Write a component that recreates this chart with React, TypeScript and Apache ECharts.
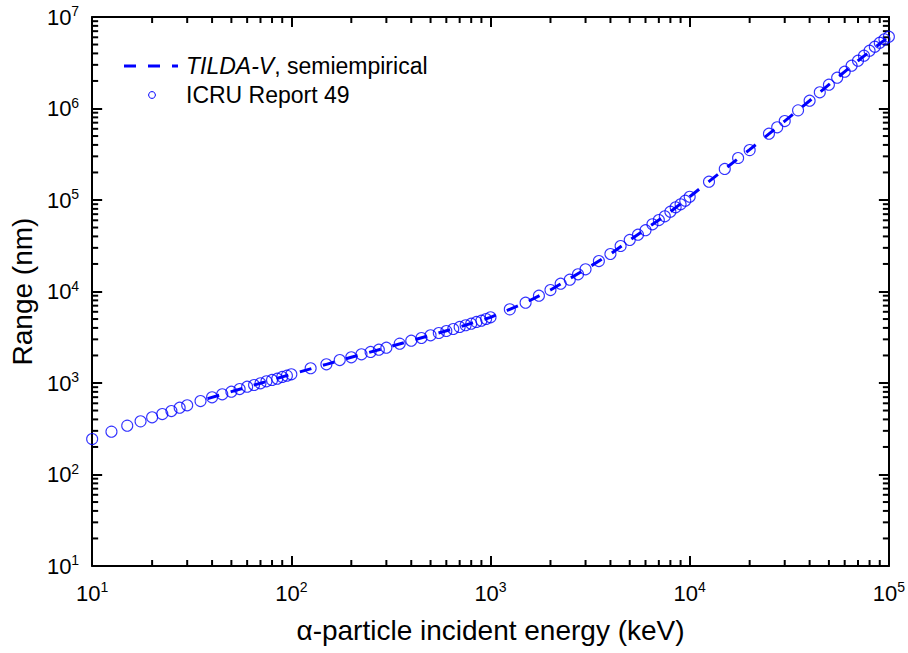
import React, { useEffect, useRef } from 'react';
import * as echarts from 'echarts';

// ICRU Report 49 points (alpha-particle energy in keV, range in nm)
const energyKeV = [
  10, 12.5, 15, 17.5, 20, 22.5, 25, 27.5, 30, 35, 40, 45, 50, 55, 60, 65, 70, 75, 80, 85, 90, 95, 100,
  125, 150, 175, 200, 225, 250, 275, 300, 350, 400, 450, 500, 550, 600, 650, 700, 750, 800, 850, 900, 950, 1000,
  1250, 1500, 1750, 2000, 2250, 2500, 2750, 3000, 3500, 4000, 4500, 5000, 5500, 6000, 6500, 7000, 7500, 8000, 8500, 9000, 9500, 10000,
  12500, 15000, 17500, 20000, 25000, 27500, 30000, 35000, 40000, 45000, 50000, 55000, 60000, 65000, 70000, 75000, 80000, 85000, 90000, 95000, 100000,
];
const icruRangeNm = [
  244, 294, 342, 381, 422, 458, 494, 537, 570, 635, 698, 753, 803, 859, 911, 951, 993, 1044, 1079, 1115, 1164, 1203, 1245,
  1449, 1601, 1783, 1909, 2060, 2183, 2312, 2432, 2692, 2899, 3104, 3321, 3519, 3700, 3893, 4095, 4276, 4450, 4645, 4800, 5004, 5221,
  6380, 7550, 8996, 10380, 12160, 13450, 15410, 17490, 21530, 25700, 31420, 36560, 41780, 46800, 54230, 60390, 66340, 74450, 83140, 89700, 98200, 108500,
  158600, 218300, 287700, 351000, 530400, 622700, 729000, 954000, 1216000, 1503000, 1820000, 2171000, 2524000, 2938000, 3330000, 3776000, 4283000, 4735000, 5235000, 5702000, 6095000,
];

// TILDA-V semiempirical curve
const tildaEnergyKeV = [38, 50, 70, 100, 150, 200, 300, 400, 500, 700, 1000, 1500, 2000, 3000, 4000, 5000, 6000, 7000, 8000, 10000, 15000, 20000, 30000, 40000, 50000, 70000, 100000];
const tildaRangeNm = [675, 805, 995, 1245, 1600, 1910, 2430, 2900, 3320, 4095, 5220, 7550, 10400, 17500, 25700, 36500, 47900, 60400, 74500, 108600, 218300, 354800, 729000, 1216000, 1820000, 3330000, 6095000];

// axis extents
const xMin = 10;
const xMax = 100000;
const yMin = 10;
const yMax = 10000000;

const FONT = '"Liberation Sans", Arial, Helvetica, sans-serif';
const BLUE = '#0000ff';

function minorValues(lo: number, hi: number): number[] {
  const out: number[] = [];
  for (let d = lo; d < hi; d *= 10) {
    for (let k = 2; k <= 9; k++) out.push(k * d);
  }
  return out;
}
const xMinorTicks = minorValues(xMin, xMax);
const yMinorTicks = minorValues(yMin, yMax);

const supLabel = (v: number) => `{b|10}{s|${Math.round(Math.log10(v))}}`;
const labelRich = {
  b: { fontSize: 22, fontFamily: FONT, color: '#000', lineHeight: 26 },
  s: { fontSize: 14, fontFamily: FONT, color: '#000', verticalAlign: 'top', lineHeight: 14, padding: [0, 0, 12, 0] },
};

const MINOR_LEN = 6;

export default function App() {
  const ref = useRef<HTMLDivElement>(null);
  useEffect(() => {
    if (!ref.current) return;
    const chart = echarts.init(ref.current, undefined, { renderer: 'svg' });
    const lineBase = { show: true, onZero: false, lineStyle: { color: '#000', width: 2 } };
    const majorTick = { show: true, inside: true, length: 10, lineStyle: { color: '#000', width: 2 } };
    const tick = (x1: number, y1: number, x2: number, y2: number) => ({
      type: 'line', shape: { x1, y1, x2, y2 }, style: { stroke: '#000', lineWidth: 2 },
    });

    chart.setOption({
      animation: false,
      backgroundColor: '#fff',
      grid: { left: 90, right: 17, top: 17, bottom: 87, containLabel: false },
      xAxis: [
        {
          type: 'log', logBase: 10, min: xMin, max: xMax, position: 'bottom',
          axisLine: lineBase, axisTick: majorTick, splitLine: { show: false },
          axisLabel: { formatter: supLabel, rich: labelRich, margin: 14 },
          name: 'α-particle incident energy (keV)', nameLocation: 'middle', nameGap: 50,
          nameTextStyle: { fontSize: 28, fontFamily: FONT, color: '#000' },
        },
        {
          type: 'log', logBase: 10, min: xMin, max: xMax, position: 'top',
          axisLine: lineBase, axisTick: majorTick, splitLine: { show: false }, axisLabel: { show: false },
        },
      ],
      yAxis: [
        {
          type: 'log', logBase: 10, min: yMin, max: yMax, position: 'left',
          axisLine: lineBase, axisTick: majorTick, splitLine: { show: false },
          axisLabel: { formatter: supLabel, rich: labelRich, margin: 13 },
          name: 'Range (nm)', nameLocation: 'middle', nameGap: 51, nameRotate: 90,
          nameTextStyle: { fontSize: 28, fontFamily: FONT, color: '#000' },
        },
        {
          type: 'log', logBase: 10, min: yMin, max: yMax, position: 'right',
          axisLine: lineBase, axisTick: majorTick, splitLine: { show: false }, axisLabel: { show: false },
        },
      ],
      series: [
        {
          name: 'ICRU Report 49',
          type: 'scatter',
          xAxisIndex: 0, yAxisIndex: 0,
          symbol: 'circle', symbolSize: 11,
          itemStyle: { color: 'rgba(0,0,0,0)', borderColor: BLUE, borderWidth: 1.1 },
          data: energyKeV.map((e, i) => [e, icruRangeNm[i]]),
          z: 2,
        },
        {
          name: 'TILDA-V, semiempirical',
          type: 'line',
          xAxisIndex: 0, yAxisIndex: 0,
          symbol: 'none',
          lineStyle: { color: BLUE, width: 3, type: [12, 12] },
          data: tildaEnergyKeV.map((e, i) => [e, tildaRangeNm[i]]),
          z: 3,
        },
        {
          type: 'custom',
          xAxisIndex: 0, yAxisIndex: 0,
          silent: true,
          data: xMinorTicks.map((v) => [v, yMin]),
          renderItem: (_p: any, api: any) => {
            const v = api.value(0);
            const b = api.coord([v, yMin]);
            const t = api.coord([v, yMax]);
            return {
              type: 'group',
              children: [tick(b[0], b[1], b[0], b[1] - MINOR_LEN), tick(t[0], t[1], t[0], t[1] + MINOR_LEN)],
            };
          },
        },
        {
          type: 'custom',
          xAxisIndex: 0, yAxisIndex: 0,
          silent: true,
          data: yMinorTicks.map((v) => [xMin, v]),
          renderItem: (_p: any, api: any) => {
            const v = api.value(1);
            const l = api.coord([xMin, v]);
            const r = api.coord([xMax, v]);
            return {
              type: 'group',
              children: [tick(l[0], l[1], l[0] + MINOR_LEN, l[1]), tick(r[0], r[1], r[0] - MINOR_LEN, r[1])],
            };
          },
        },
      ],
      graphic: [
        { type: 'line', shape: { x1: 124, y1: 66, x2: 178, y2: 66 }, style: { stroke: BLUE, lineWidth: 3, lineDash: [12, 12] } },
        {
          type: 'text', x: 186, y: 66,
          style: {
            text: '{i|TILDA-V}, semiempirical',
            rich: { i: { fontStyle: 'italic', fontSize: 23, fontFamily: FONT, fill: '#000' } },
            fontSize: 23, fontFamily: FONT, fill: '#000', verticalAlign: 'middle', align: 'left',
          },
        },
        { type: 'circle', shape: { cx: 152, cy: 95, r: 3.4 }, style: { fill: 'none', stroke: BLUE, lineWidth: 1 } },
        {
          type: 'text', x: 186, y: 95,
          style: { text: 'ICRU Report 49', fontSize: 23, fontFamily: FONT, fill: '#000', verticalAlign: 'middle', align: 'left' },
        },
      ],
    });

    return () => chart.dispose();
  }, []);
  return <div ref={ref} style={{ width: 908, height: 653, position: 'absolute', left: 0, top: 0 }} />;
}
